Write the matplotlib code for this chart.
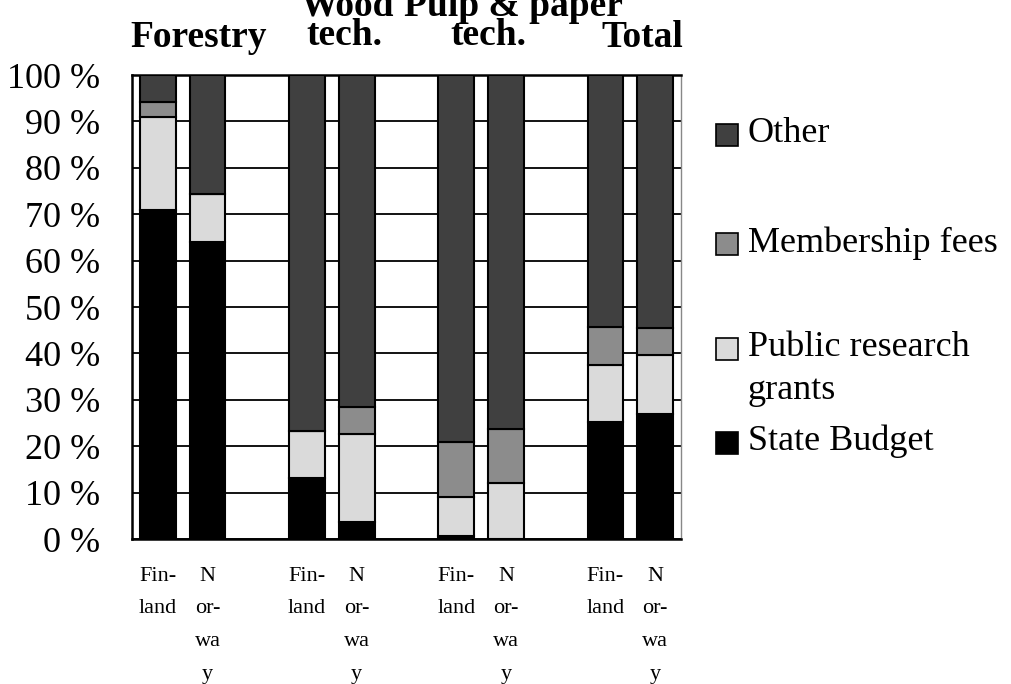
import matplotlib
matplotlib.use("Agg")
import matplotlib.pyplot as plt
from matplotlib.patches import Rectangle
import numpy as np

# funding shares (%) per institute type, Finland / Norway pairs
bar_labels = ["Fin-\nland", "N\nor-\nwa\ny"] * 4
state_budget = [70.9, 64.0, 13.1, 3.6, 0.7, 0.0, 25.2, 26.9]
public_grants = [20.1, 10.4, 10.1, 19.0, 8.3, 12.0, 12.3, 12.7]
membership_fees = [3.1, 0.0, 0.0, 5.8, 12.0, 11.6, 8.2, 5.8]
other = [5.9, 25.6, 76.8, 71.6, 79.0, 76.4, 54.3, 54.6]
yticks = [0, 10, 20, 30, 40, 50, 60, 70, 80, 90, 100]

series = ["State Budget", "Public research grants", "Membership fees", "Other"]
colors = ["#000000", "#dadada", "#8c8c8c", "#404040"]

plt.rcParams["font.family"] = ["Liberation Serif", "DejaVu Serif"]

fig = plt.figure(figsize=(10.12, 6.84), dpi=100)
ax = fig.add_axes([132 / 1012, 1 - 539 / 684, (681 - 132) / 1012, (539 - 75) / 684])

x = np.array([0, 1, 3, 4, 6, 7, 9, 10])
bottom = np.zeros(len(x))
for vals, col in zip([state_budget, public_grants, membership_fees, other], colors):
    vals = np.array(vals)
    ax.bar(x, vals, width=0.72, bottom=bottom, color=col, edgecolor="black",
           linewidth=1.5, zorder=3)
    bottom += vals

ax.set_xlim(-0.52, 10.52)
ax.set_ylim(0, 100)
ax.set_yticks(yticks)
ax.set_yticklabels([f"{v} %" for v in yticks], fontsize=26)
ax.tick_params(axis="y", length=0, pad=23)
ax.set_xticks(x)
ax.set_xticklabels(bar_labels, fontsize=16, linespacing=1.98, va="top")
ax.tick_params(axis="x", length=0, pad=20)
ax.grid(axis="y", color="black", linewidth=1.3, zorder=0)
for side in ["left", "bottom", "top"]:
    ax.spines[side].set_linewidth(1.8)
ax.spines["right"].set_color("#888888")
ax.spines["right"].set_linewidth(1.0)

# group headings (upper line runs off the top edge)
head = dict(fontsize=27, fontweight="bold", ha="center", va="baseline")
fig.text(199 / 1012, 1 - 47 / 684, "Forestry", **head)
fig.text(347 / 1012, 1 - 15 / 684, "Wood", **head)
fig.text(344 / 1012, 1 - 45 / 684, "tech.", **head)
fig.text(513 / 1012, 1 - 16 / 684, "Pulp & paper", **head)
fig.text(488 / 1012, 1 - 45 / 684, "tech.", **head)
fig.text(642 / 1012, 1 - 47 / 684, "Total", **head)

# legend, drawn by hand so the spacing stays uneven
leg_y = [135, 244, 349, 443]
leg_text = ["Other", "Membership fees", "Public research\ngrants", "State Budget"]
leg_cols = [colors[3], colors[2], colors[1], colors[0]]
for yy, txt, col in zip(leg_y, leg_text, leg_cols):
    fig.add_artist(Rectangle((716 / 1012, 1 - (yy + 11) / 684), 22 / 1012, 22 / 684,
                             facecolor=col, edgecolor="black", linewidth=1.2,
                             transform=fig.transFigure))
    fig.text(748 / 1012, 1 - (yy - 18) / 684, txt, fontsize=26, ha="left", va="top",
             linespacing=1.4)

fig.savefig("out.png", dpi=100)
